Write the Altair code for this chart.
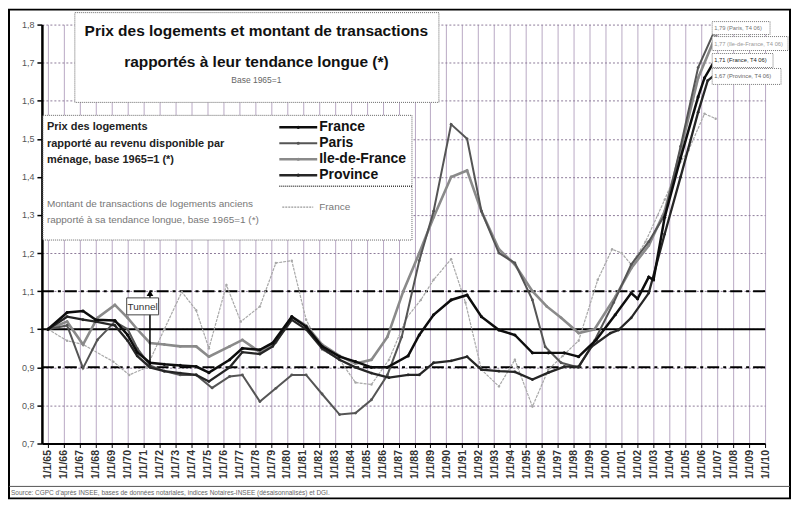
import altair as alt
import pandas as pd

# ---------------- data ----------------
france_x = [1965.0, 1966.2, 1967.2, 1968.0, 1969.2, 1970.0, 1970.6, 1971.4, 1972.3, 1973.3, 1974.3,
            1975.1, 1976.4, 1977.2, 1978.3, 1979.1, 1980.3, 1981.2, 1982.2, 1983.3, 1984.3, 1985.3,
            1986.3, 1987.6, 1988.3, 1989.2, 1990.3, 1991.3, 1992.2, 1993.3, 1994.3, 1995.4, 1996.4,
            1997.4, 1998.3, 1999.4, 2000.6, 2001.6, 2002.0, 2002.7, 2003.0, 2003.7, 2004.7, 2005.8,
            2006.2, 2006.9]
france_y = [1.00, 1.044, 1.048, 1.025, 1.023, 0.985, 0.94, 0.912, 0.908, 0.905, 0.902,
            0.886, 0.92, 0.95, 0.946, 0.964, 1.033, 1.007, 0.955, 0.928, 0.915, 0.90,
            0.90, 0.93, 0.985, 1.038, 1.077, 1.09, 1.033, 0.998, 0.985, 0.938, 0.938,
            0.938, 0.928, 0.972, 1.038, 1.095, 1.08, 1.137, 1.13, 1.294, 1.45, 1.61,
            1.66, 1.71]

province_x = [1965.0, 1966.2, 1967.2, 1968.0, 1969.2, 1970.0, 1970.6, 1971.4, 1972.3, 1973.3, 1974.3,
              1975.1, 1976.4, 1977.2, 1978.3, 1979.1, 1980.3, 1981.2, 1982.2, 1983.3, 1984.3, 1985.3,
              1986.4, 1987.6, 1988.3, 1989.2, 1990.3, 1991.3, 1992.2, 1993.3, 1994.3, 1995.4, 1996.4,
              1997.4, 1998.3, 1999.1, 2000.3, 2000.8, 2001.6, 2002.7, 2003.7, 2004.7, 2005.8, 2006.4,
              2006.9]
province_y = [1.00, 1.033, 1.025, 1.02, 1.01, 0.97, 0.93, 0.90, 0.89, 0.885, 0.88,
              0.863, 0.90, 0.94, 0.935, 0.955, 1.025, 1.00, 0.95, 0.92, 0.90, 0.885,
              0.873, 0.88, 0.88, 0.912, 0.917, 0.928, 0.894, 0.89, 0.888, 0.868, 0.886,
              0.902, 0.902, 0.954, 0.99, 0.998, 1.03, 1.095, 1.25, 1.40, 1.57, 1.653,
              1.67]

paris_x = [1965.0, 1966.2, 1967.2, 1968.1, 1969.2, 1970.0, 1970.6, 1971.4, 1972.3, 1973.3, 1974.3,
           1975.3, 1976.4, 1977.2, 1978.3, 1979.3, 1980.3, 1981.2, 1982.2, 1983.3, 1984.3, 1985.3,
           1986.3, 1987.2, 1988.3, 1989.2, 1990.3, 1991.3, 1992.2, 1993.3, 1994.3, 1995.4, 1996.2,
           1997.2, 1998.3, 1999.3, 2000.5, 2001.6, 2002.7, 2003.7, 2004.7, 2005.8, 2006.9]
paris_y = [1.00, 1.01, 0.898, 0.972, 1.02, 1.00, 0.95, 0.905, 0.89, 0.88, 0.88,
           0.846, 0.876, 0.88, 0.81, 0.845, 0.88, 0.88, 0.83, 0.776, 0.78, 0.815,
           0.88, 0.98, 1.18, 1.31, 1.538, 1.50, 1.31, 1.20, 1.174, 1.077, 0.954,
           0.912, 0.90, 0.97, 1.07, 1.17, 1.23, 1.30, 1.48, 1.687, 1.79]

idf_x = [1965.0, 1966.2, 1967.2, 1968.1, 1969.2, 1970.0, 1970.6, 1971.4, 1972.3, 1973.3, 1974.3,
         1975.1, 1976.4, 1977.2, 1978.3, 1979.3, 1980.3, 1981.2, 1982.2, 1983.3, 1984.3, 1985.3,
         1986.3, 1987.3, 1988.3, 1989.2, 1990.3, 1991.3, 1992.2, 1993.3, 1994.3, 1995.4, 1996.3,
         1997.2, 1998.3, 1999.3, 2000.6, 2001.6, 2002.7, 2003.7, 2004.7, 2005.8, 2006.9]
idf_y = [1.00, 1.02, 0.96, 1.03, 1.064, 1.03, 1.00, 0.964, 0.96, 0.955, 0.955,
         0.928, 0.955, 0.972, 0.94, 0.965, 1.033, 1.01, 0.96, 0.93, 0.91, 0.92,
         0.98, 1.10, 1.20, 1.294, 1.40, 1.417, 1.31, 1.21, 1.17, 1.10, 1.06,
         1.03, 0.99, 1.00, 1.085, 1.16, 1.22, 1.31, 1.47, 1.66, 1.77]

trans_x = [1965.0, 1966.2, 1967.2, 1969.1, 1970.1, 1971.2, 1972.3, 1973.4, 1974.3, 1975.1, 1976.2,
           1977.1, 1978.3, 1979.3, 1980.3, 1981.2, 1982.2, 1983.3, 1984.3, 1985.3, 1986.4, 1987.5,
           1988.4, 1989.2, 1990.3, 1991.2, 1992.2, 1993.3, 1994.3, 1995.4, 1996.4, 1997.3, 1998.3,
           1999.5, 2000.4, 2001.0, 2001.6, 2002.5, 2003.7, 2004.7, 2005.2, 2006.2, 2006.9]
trans_y = [1.00, 0.97, 0.96, 0.915, 0.88, 0.90, 1.00, 1.098, 1.05, 0.95, 1.116,
           1.02, 1.06, 1.174, 1.18, 1.025, 0.946, 0.92, 0.86, 0.855, 0.92, 1.03,
           1.077, 1.13, 1.184, 1.07, 0.894, 0.85, 0.92, 0.797, 0.894, 0.93, 0.97,
           1.13, 1.21, 1.20, 1.17, 1.23, 1.34, 1.44, 1.47, 1.566, 1.553]

years = list(range(1965, 2011))
y_ticks = [0.7, 0.8, 0.9, 1.0, 1.1, 1.2, 1.3, 1.4, 1.5, 1.6, 1.7, 1.8]
ref_solid = [1.0]
ref_dashdot = [0.9, 1.1]
tunnel_year = 1971.4
tunnel_from, tunnel_to = 0.905, 1.095

end_labels = ["1,79 (Paris, T4 06)", "1,77 (Ile-de-France, T4 06)",
              "1,71 (France, T4 06)", "1,67 (Province, T4 06)"]
legend_names = ["France", "Paris", "Ile-de-France", "Province"]
legend_left = ["Prix des logements", "rapporté au revenu disponible par", "ménage, base 1965=1 (*)"]
legend_trans = ["Montant de transactions de logements anciens",
                "rapporté à sa tendance longue, base 1965=1 (*)"]
title_lines = ["Prix des logements et montant de transactions", "rapportés à leur tendance longue (*)"]
subtitle = "Base 1965=1"
source = "Source: CGPC d'après INSEE, bases de données notariales, indices Notaires-INSEE (désaisonnalisés) et DGI."

FONT = "Liberation Sans"
W, H = 725, 420

xscale = alt.Scale(domain=[1964.62, 2010.0], nice=False, zero=False)
yscale = alt.Scale(domain=[0.7, 1.8], nice=False, zero=False)

xaxis = alt.Axis(values=years, labelExpr="'1/1/' + substring(toString(datum.value), 2, 4)",
                 labelAngle=270, labelAlign="right", labelBaseline="middle", labelOverlap=False,
                 grid=True, gridColor="#8a6f9c", gridWidth=1, gridOpacity=0.6,
                 domainColor="black", domainWidth=2, tickColor="black", tickSize=4, tickWidth=1,
                 labelFontSize=10.5, labelFontWeight="bold", labelColor="#333", labelFont=FONT,
                 labelPadding=2, title=None)
yaxis = alt.Axis(values=y_ticks,
                 labelExpr="datum.value == 1 ? '1' : replace(format(datum.value, '.1f'), '.', ',')",
                 grid=True, gridColor="#8e7b9a", gridDash=[2, 2], gridWidth=1,
                 domainColor="black", domainWidth=2.5, tickColor="black", tickSize=5, tickWidth=1.5,
                 labelFontSize=9, labelColor="#555", labelFont=FONT, labelPadding=3, title=None)


def sdf(xs, ys):
    return pd.DataFrame({"year": xs, "value": ys})


def series(xs, ys, color, width, dash=None, psize=8):
    kw = dict(color=color, strokeWidth=width,
              point=alt.OverlayMarkDef(size=psize, filled=True, color=color))
    if dash:
        kw["strokeDash"] = dash
    return alt.Chart(sdf(xs, ys)).mark_line(**kw).encode(
        x=alt.X("year:Q", scale=xscale, axis=xaxis),
        y=alt.Y("value:Q", scale=yscale, axis=yaxis))


def one():
    return pd.DataFrame({"k": [0]})


def text(t, x, y, size, color="#222", weight="normal", align="left"):
    return alt.Chart(pd.DataFrame({"t": [t]})).mark_text(
        align=align, baseline="middle", fontSize=size, fontWeight=weight, color=color, font=FONT
    ).encode(x=alt.value(x), y=alt.value(y), text="t:N")


def box(x1, x2, y1, y2, stroke="#666", dash=(1, 1), width=1, fill="white", fill_opacity=1):
    kw = dict(fill=fill, fillOpacity=fill_opacity, stroke=stroke, strokeWidth=width)
    if dash:
        kw["strokeDash"] = list(dash)
    return alt.Chart(one()).mark_rect(**kw).encode(
        x=alt.value(x1), x2=alt.value(x2), y=alt.value(y1), y2=alt.value(y2))


def hline(x1, x2, y, color, width, dash=None):
    kw = dict(color=color, strokeWidth=width)
    if dash:
        kw["strokeDash"] = dash
    return alt.Chart(one()).mark_rule(**kw).encode(
        x=alt.value(x1), x2=alt.value(x2), y=alt.value(y))


layers = []

# reference lines (first layer carries the axes)
layers.append(alt.Chart(pd.DataFrame({"value": ref_solid})).mark_rule(color="black", strokeWidth=2)
              .encode(y=alt.Y("value:Q", scale=yscale, axis=yaxis)))
layers.append(alt.Chart(pd.DataFrame({"value": ref_dashdot})).mark_rule(
    color="black", strokeWidth=2, strokeDash=[12, 4, 3, 4])
    .encode(y=alt.Y("value:Q", scale=yscale, axis=yaxis)))

# data series
layers.append(series(trans_x, trans_y, "#a8a8a8", 1.2, dash=[3, 1], psize=6))
layers.append(series(idf_x, idf_y, "#8a8a8a", 2.6, psize=8))
layers.append(series(paris_x, paris_y, "#555555", 2.0, psize=8))
layers.append(series(province_x, province_y, "#262626", 2.3, psize=8))
layers.append(series(france_x, france_y, "#0d0d0d", 2.5, psize=10))

# outer frame (transparent) and source strip
layers.append(box(-33, 750, -15, 475, stroke="black", dash=None, width=2, fill="white", fill_opacity=0))
layers.append(hline(-33, 750, 463, "#555", 1))

# tunnel arrow
layers.append(alt.Chart(pd.DataFrame({"year": [tunnel_year], "a": [tunnel_from], "b": [tunnel_to]}))
              .mark_rule(color="black", strokeWidth=1.5)
              .encode(x=alt.X("year:Q", scale=xscale, axis=xaxis),
                      y=alt.Y("a:Q", scale=yscale, axis=yaxis), y2="b:Q"))
layers.append(alt.Chart(pd.DataFrame({"year": [tunnel_year], "b": [tunnel_to]}))
              .mark_point(shape="triangle-up", filled=True, color="black", size=45, opacity=1)
              .encode(x=alt.X("year:Q", scale=xscale, axis=xaxis),
                      y=alt.Y("b:Q", scale=yscale, axis=yaxis)))
layers.append(box(85, 117, 274, 291, stroke="#444", dash=None))
layers.append(text("Tunnel", 101, 283, 10, color="#333", align="center"))

# title box
layers.append(box(33, 398, -12, 78, stroke="#666", dash=(1, 1)))
layers.append(text(title_lines[0], 215, 6, 15.5, color="#111", weight="bold", align="center"))
layers.append(text(title_lines[1], 215, 38, 15.5, color="#111", weight="bold", align="center"))
layers.append(text(subtitle, 215, 56, 8.5, color="#666", align="center"))

# legend box
layers.append(box(1, 371, 91, 216, stroke="#666", dash=(1, 1)))
for i, t in enumerate(legend_left):
    layers.append(text(t, 5, 103 + i * 16.5, 11, color="#222", weight="bold"))
leg_styles = [("#0d0d0d", 2.5), ("#555555", 2.0), ("#8a8a8a", 2.6), ("#262626", 2.5)]
for i, (name, (c, w)) in enumerate(zip(legend_names, leg_styles)):
    yy = 103 + i * 16
    layers.append(hline(238, 276, yy, c, w))
    layers.append(alt.Chart(one()).mark_point(shape="circle", filled=True, color=c, size=10, opacity=1)
                  .encode(x=alt.value(257), y=alt.value(yy)))
    layers.append(text(name, 278, yy, 14, color="#111", weight="bold"))
layers.append(hline(238, 371, 162, "#444", 1.5, dash=[1, 1]))
for i, t in enumerate(legend_trans):
    layers.append(text(t, 5, 180 + i * 16, 10, color="#777"))
layers.append(hline(241, 272, 183, "#999", 1.2, dash=[2, 1]))
layers.append(text("France", 278, 183, 10, color="#777"))

# end-of-series labels
end_boxes = [(672, 730, -3, 10), (672, 748, 12, 26), (672, 733, 29, 43), (672, 741, 44, 60)]
end_colors = ["#777", "#999", "#222", "#666"]
for t, (x1, x2, y1, y2), c in zip(end_labels, end_boxes, end_colors):
    layers.append(box(x1, x2, y1, y2, stroke="#777", dash=(1, 1)))
    layers.append(text(t, x1 + 2, (y1 + y2) / 2, 5.8, color=c))

# source
layers.append(text(source, -31, 470, 6.5, color="#666"))

chart = alt.layer(*layers).properties(
    width=W, height=H,
    autosize=alt.AutoSizeParams(type="none"),
    padding={"left": 34, "top": 16, "right": 26, "bottom": 56},
    background="white",
).configure_view(stroke=None)

chart.save("out.html", embed_options={"renderer": "svg", "actions": False})
